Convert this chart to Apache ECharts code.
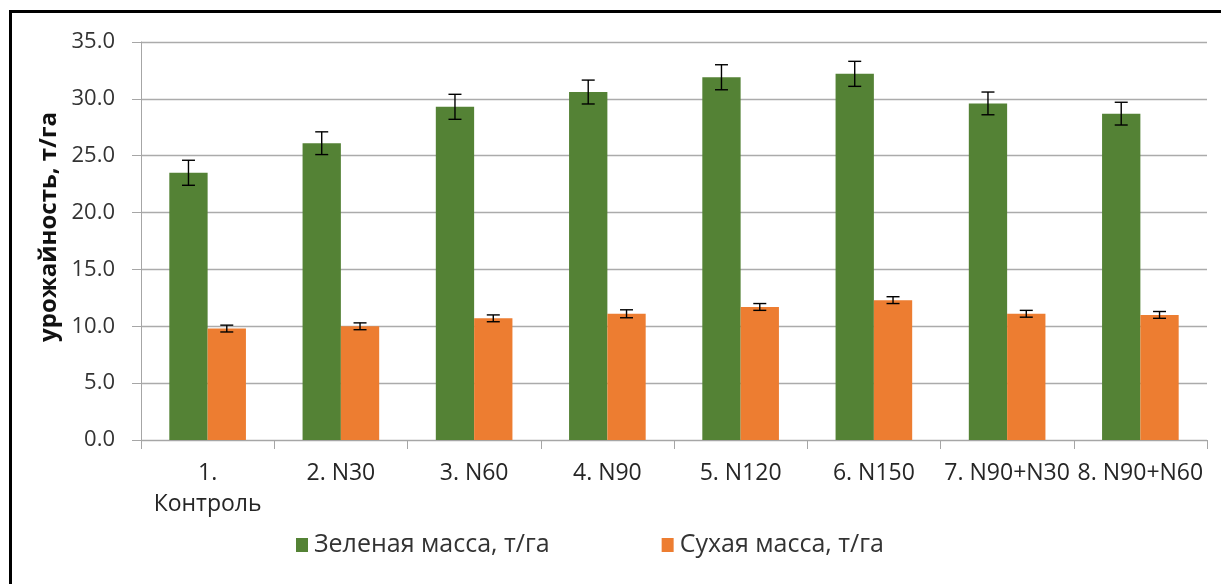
<!DOCTYPE html>
<html>
<head>
<meta charset="utf-8">
<script src="https://cdn.jsdelivr.net/npm/echarts@6/dist/echarts.min.js"></script>
<style>
  html, body { margin: 0; padding: 0; background: #fff; }
  #chart { position: absolute; left: 0; top: 0; width: 1221px; height: 584px; }
  #frame { position: absolute; left: 9px; top: 10px; width: 1300px; height: 700px;
           border-left: 3px solid #000; border-top: 3px solid #000; pointer-events: none; }
</style>
</head>
<body>
<div id="chart"></div>
<div id="frame"></div>
<script>
const categories = ['1.\nКонтроль', '2. N30', '3. N60', '4. N90', '5. N120', '6. N150', '7. N90+N30', '8. N90+N60'];
const seriesNames = ['Зеленая масса, т/га', 'Сухая масса, т/га'];
const greenMass = [23.5, 26.1, 29.3, 30.6, 31.9, 32.2, 29.6, 28.7];
const greenErr  = [1.1, 1.0, 1.1, 1.05, 1.1, 1.1, 1.0, 1.0];
const dryMass   = [9.8, 10.0, 10.7, 11.1, 11.7, 12.3, 11.1, 11.0];
const dryErr    = [0.3, 0.3, 0.3, 0.35, 0.3, 0.3, 0.3, 0.3];
const yTitle = 'урожайность, т/га';

const CAT_GAP = 0.425;
const FONT = '"Open Sans", "Noto Sans", sans-serif';

function errRenderer(sign) {
  return function (params, api) {
    const i = api.value(0);
    const lo = api.coord([i, api.value(1)]);
    const hi = api.coord([i, api.value(2)]);
    const bw = api.size([1, 0])[0] * (1 - CAT_GAP) / 2;
    const cx = lo[0] + sign * bw / 2;
    const cap = 6.5;
    const st = { stroke: '#000', lineWidth: 1.4 };
    return {
      type: 'group',
      children: [
        { type: 'line', shape: { x1: cx, y1: lo[1], x2: cx, y2: hi[1] }, style: st },
        { type: 'line', shape: { x1: cx - cap, y1: lo[1], x2: cx + cap, y2: lo[1] }, style: st },
        { type: 'line', shape: { x1: cx - cap, y1: hi[1], x2: cx + cap, y2: hi[1] }, style: st }
      ]
    };
  };
}

const chart = echarts.init(document.getElementById('chart'), null, { renderer: 'canvas' });
chart.setOption({
  animation: false,
  textStyle: { fontFamily: FONT },
  grid: { left: 141, right: 14, top: 42, bottom: 144, containLabel: false },
  legend: {
    left: 291, top: 525,
    itemWidth: 12, itemHeight: 14, itemGap: 112,
    icon: 'rect',
    textStyle: { fontFamily: FONT, fontSize: 25, lineHeight: 30, color: '#333', padding: [0, 0, 0, 1] },
    data: seriesNames
  },
  graphic: [{
    type: 'text', x: 49, y: 227, rotation: Math.PI / 2,
    style: { text: yTitle, font: 'bold 24px ' + FONT, fill: '#111', textAlign: 'center', textVerticalAlign: 'middle' }
  }],
  xAxis: {
    type: 'category', data: categories,
    axisLine: { lineStyle: { color: '#a6a6a6', width: 1 } },
    axisTick: { show: true, length: 9, alignWithLabel: false, lineStyle: { color: '#a6a6a6' } },
    axisLabel: { interval: 0, margin: 18, fontSize: 23, lineHeight: 31, color: '#262626', fontFamily: FONT }
  },
  yAxis: {
    type: 'value', min: 0, max: 35, interval: 5,
    axisLine: { show: true, lineStyle: { color: '#a6a6a6' } },
    axisTick: { show: true, length: 9, lineStyle: { color: '#a6a6a6' } },
    splitLine: { lineStyle: { color: '#ababab', width: 1.3 } },
    axisLabel: { margin: 26, fontSize: 22, color: '#333', fontFamily: FONT, formatter: v => v.toFixed(1) }
  },
  series: [
    { name: seriesNames[0], type: 'bar', data: greenMass, barGap: '0%', barCategoryGap: (CAT_GAP * 100) + '%',
      itemStyle: { color: '#548235' } },
    { name: seriesNames[1], type: 'bar', data: dryMass, barGap: '0%', barCategoryGap: (CAT_GAP * 100) + '%',
      itemStyle: { color: '#ED7D31' } },
    { type: 'custom', renderItem: errRenderer(-1), z: 10,
      data: greenMass.map((v, i) => [i, v - greenErr[i], v + greenErr[i]]) },
    { type: 'custom', renderItem: errRenderer(1), z: 10,
      data: dryMass.map((v, i) => [i, v - dryErr[i], v + dryErr[i]]) }
  ]
});
</script>
</body>
</html>
